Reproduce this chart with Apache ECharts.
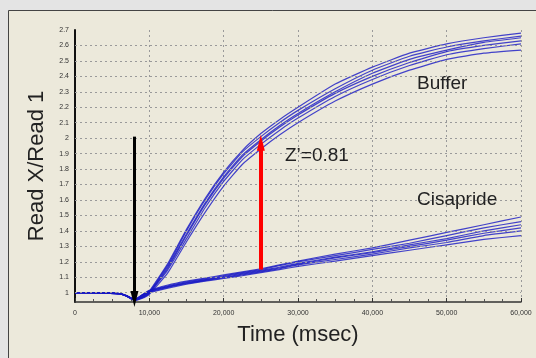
<!DOCTYPE html>
<html>
<head>
<meta charset="utf-8">
<script src="https://cdn.jsdelivr.net/npm/echarts@6/dist/echarts.min.js"></script>
<style>
html,body{margin:0;padding:0;background:#e4e4e4;}
#main{width:536px;height:358px;}
</style>
</head>
<body>
<div id="main"></div>
<script>
// time points (msec)
var times = [0,2000,4000,6000,7000,8000,9000,10000,12500,15000,17500,20000,22500,25000,27500,30000,35000,40000,45000,50000,55000,60000];

// Buffer wells
var buffer1 = [1.0,1.0,1.0,0.995,0.98,0.955,0.975,1.01,1.19,1.41,1.61,1.78,1.92,2.03,2.12,2.20,2.35,2.46,2.55,2.61,2.65,2.68];
var buffer2 = [1.0,1.0,1.0,0.995,0.98,0.955,0.972,1.005,1.18,1.40,1.60,1.77,1.91,2.01,2.10,2.18,2.32,2.44,2.53,2.59,2.63,2.66];
var buffer3 = [1.0,1.0,1.0,0.995,0.978,0.953,0.97,1.0,1.17,1.38,1.58,1.75,1.89,1.99,2.08,2.16,2.30,2.42,2.51,2.57,2.62,2.65];
var buffer4 = [1.0,1.0,1.0,0.993,0.978,0.953,0.968,0.998,1.16,1.37,1.57,1.74,1.88,1.98,2.07,2.15,2.29,2.40,2.49,2.56,2.60,2.63];
var buffer5 = [1.0,1.0,0.998,0.993,0.977,0.952,0.966,0.995,1.15,1.35,1.55,1.72,1.86,1.96,2.05,2.13,2.27,2.38,2.47,2.54,2.58,2.61];
var buffer6 = [1.0,1.0,0.998,0.992,0.976,0.95,0.963,0.99,1.13,1.33,1.52,1.69,1.83,1.93,2.02,2.10,2.24,2.35,2.44,2.51,2.55,2.57];

// Cisapride wells
var cisa1 = [1.0,1.0,1.0,0.995,0.98,0.955,0.985,1.015,1.05,1.075,1.095,1.115,1.135,1.155,1.18,1.205,1.25,1.29,1.34,1.39,1.44,1.49];
var cisa2 = [1.0,1.0,1.0,0.995,0.98,0.955,0.985,1.013,1.045,1.07,1.09,1.11,1.13,1.15,1.175,1.20,1.24,1.28,1.32,1.37,1.42,1.46];
var cisa3 = [1.0,1.0,1.0,0.995,0.978,0.953,0.983,1.01,1.04,1.065,1.085,1.105,1.125,1.145,1.165,1.19,1.23,1.265,1.31,1.35,1.40,1.44];
var cisa4 = [1.0,1.0,1.0,0.993,0.978,0.953,0.982,1.008,1.04,1.062,1.082,1.10,1.12,1.14,1.16,1.185,1.225,1.26,1.30,1.34,1.385,1.42];
var cisa5 = [1.0,1.0,0.998,0.993,0.977,0.952,0.98,1.005,1.035,1.058,1.078,1.096,1.115,1.135,1.155,1.18,1.215,1.25,1.29,1.325,1.37,1.40];
var cisa6 = [1.0,1.0,0.998,0.992,0.976,0.95,0.978,1.0,1.03,1.055,1.075,1.092,1.11,1.13,1.15,1.17,1.205,1.24,1.275,1.31,1.345,1.37];

// axis ticks
var yTicks = [1,1.1,1.2,1.3,1.4,1.5,1.6,1.7,1.8,1.9,2,2.1,2.2,2.3,2.4,2.5,2.6,2.7];
var yGridLines = [1,1.1,1.2,1.3,1.4,1.5,1.6,1.7,1.8,1.9,2,2.1,2.2,2.3,2.4,2.5,2.6];

// annotation arrows [time, from, to]
var addArrow = [8000, 2.01, 0.96];
var zArrow = [25000, 1.15, 1.97];

var allCurves = [buffer1,buffer2,buffer3,buffer4,buffer5,buffer6,cisa1,cisa2,cisa3,cisa4,cisa5,cisa6];

var pair = function(ys){
	var out = [];
	for (var i = 0; i < times.length; i++) out.push([times[i], ys[i]]);
	return out;
};

var series = [];
for (var k = 0; k < allCurves.length; k++) {
	series.push({
		type: 'line',
		data: pair(allCurves[k]),
		showSymbol: false,
		smooth: 0.15,
		silent: true,
		z: 3,
		lineStyle: {color: '#1818c4', width: 1.2, opacity: 0.8}
	});
}

// dotted horizontal grid
var gridLineData = [];
for (var g = 0; g < yGridLines.length; g++) gridLineData.push({yAxis: yGridLines[g]});

series.push({
	type: 'line',
	data: [],
	silent: true,
	markLine: {
		silent: true,
		symbol: 'none',
		label: {show: false},
		lineStyle: {color: '#9a9a9a', type: [2, 3], width: 1},
		data: gridLineData
	}
});
// arrows
series.push({
	type: 'line',
	data: [],
	silent: true,
	z: 5,
	markLine: {
		silent: true,
		z: 5,
		symbol: ['none', 'triangle'],
		label: {show: false},
		data: [
			[{coord: [addArrow[0], addArrow[1]], lineStyle: {color: '#000', width: 3, type: 'solid'}, symbolSize: [12, 17]},
			 {coord: [addArrow[0], addArrow[2]]}],
			[{coord: [zArrow[0], zArrow[1]], lineStyle: {color: '#ff0000', width: 4, type: 'solid'}, symbolSize: [14, 15]},
			 {coord: [zArrow[0], zArrow[2]]}]
		]
	}
});

var txtFont = function(sz){ return sz + 'px "Liberation Sans", Arial, sans-serif'; };

var chart = echarts.init(document.getElementById('main'));
chart.setOption({
	animation: false,
	backgroundColor: '#e4e4e4',
	graphic: [
		{type: 'rect', shape: {x: 8.5, y: 10.5, width: 540, height: 360}, style: {fill: '#ece9db', stroke: '#444', lineWidth: 1}, z: -10},
		{type: 'text', x: 417, y: 84, style: {text: 'Buffer', font: txtFont(19), fill: '#222', verticalAlign: 'middle'}, z: 10},
		{type: 'text', x: 285, y: 156, style: {text: 'Z\u2019=0.81', font: txtFont(19), fill: '#222', verticalAlign: 'middle'}, z: 10},
		{type: 'text', x: 417, y: 200, style: {text: 'Cisapride', font: txtFont(19), fill: '#222', verticalAlign: 'middle'}, z: 10}
	],
	grid: {left: 75, right: 15, top: 30, bottom: 56},
	xAxis: {
		type: 'value',
		min: 0,
		max: 60000,
		interval: 10000,
		name: 'Time (msec)',
		nameLocation: 'middle',
		nameGap: 22,
		nameTextStyle: {fontSize: 22, color: '#222', fontFamily: '"Liberation Sans", Arial, sans-serif'},
		axisLine: {lineStyle: {color: '#333', width: 1.5}},
		axisTick: {show: true, inside: true, length: 4, lineStyle: {color: '#333'}},
		minorTick: {show: true, splitNumber: 4, length: 3, lineStyle: {color: '#555'}},
		axisLabel: {
			fontSize: 7, color: '#333', margin: 8,
			formatter: function(v){ return v === 0 ? '0' : (v/1000) + ',000'; }
		},
		splitLine: {show: true, lineStyle: {color: '#9a9a9a', type: [2, 3]}}
	},
	yAxis: {
		type: 'value',
		min: 0.94,
		max: 2.7,
		name: 'Read X/Read 1',
		nameLocation: 'middle',
		nameGap: 21,
		nameTextStyle: {fontSize: 22, color: '#222', fontFamily: '"Liberation Sans", Arial, sans-serif'},
		axisLine: {show: true, lineStyle: {color: '#111', width: 2}},
		axisTick: {show: false, customValues: yTicks},
		axisLabel: {fontSize: 7, color: '#333', margin: 6, customValues: yTicks},
		splitLine: {show: false}
	},
	series: series
});
</script>
</body>
</html>
